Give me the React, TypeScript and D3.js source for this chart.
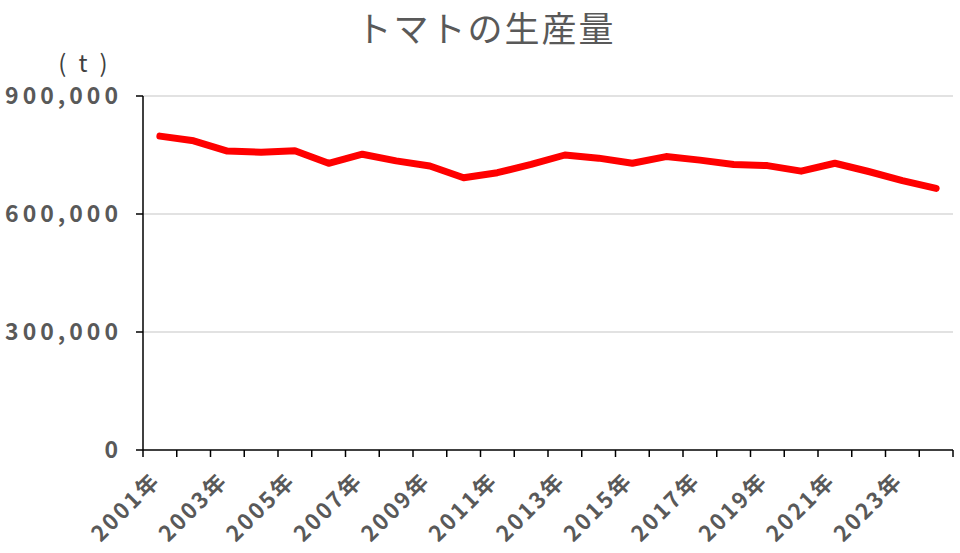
import { line, scaleBand, scaleLinear } from "d3";

const years = [
  "2001", "2002", "2003", "2004", "2005", "2006", "2007", "2008",
  "2009", "2010", "2011", "2012", "2013", "2014", "2015", "2016",
  "2017", "2018", "2019", "2020", "2021", "2022", "2023", "2024",
];
const production = [
  798000, 786000, 760000, 757000, 761000, 729000, 752000, 735000,
  722000, 692000, 705000, 726000, 750000, 742000, 729000, 746000,
  737000, 726000, 723000, 709000, 729000, 708000, 685000, 665000,
];
const yTicks = [0, 300000, 600000, 900000];

const width = 960;
const height = 553;
const margin = { top: 96, right: 7, bottom: 103, left: 143 };

const font = "'Noto Sans CJK JP', 'Noto Sans', sans-serif";
const labelColor = "#595959";

const App = () => {
  const innerW = width - margin.left - margin.right;
  const innerH = height - margin.top - margin.bottom;

  const xScale = scaleBand().domain(years).range([0, innerW]);
  const yScale = scaleLinear().domain([0, 900000]).range([innerH, 0]);

  const path = line<number>()
    .x((_, i) => xScale(years[i])! + xScale.bandwidth() / 2)
    .y((d) => yScale(d))(production);

  const fmt = (v: number) => v.toLocaleString("en-US");

  return (
    <svg width={width} height={height} style={{ position: "absolute", left: 0, top: 0, background: "#fff" }}>
      <text x={486} y={42} textAnchor="middle" fontFamily={font} fontSize={35} letterSpacing={2} fill={labelColor}>
        トマトの生産量
      </text>
      <text x={83} y={72} textAnchor="middle" fontFamily={font} fontSize={24} fill="#404040">
        {"(\u2002t\u2002)"}
      </text>
      <g transform={`translate(${margin.left},${margin.top})`}>
        {yTicks
          .filter((t) => t > 0)
          .map((t) => (
            <line key={`g-${t}`} x1={0} x2={innerW} y1={yScale(t)} y2={yScale(t)} stroke="#d9d9d9" strokeWidth={1.5} />
          ))}
        {yTicks.map((t) => (
          <g key={`y-${t}`} transform={`translate(0,${yScale(t)})`}>
            <line x1={-7} x2={0} stroke="#000" strokeWidth={1.5} />
            <text
              x={-21}
              dy="0.36em"
              textAnchor="end"
              fontFamily={font}
              fontWeight={700}
              fontSize={23}
              letterSpacing={4}
              fill={labelColor}
            >
              {fmt(t)}
            </text>
          </g>
        ))}
        <line x1={0} x2={0} y1={0} y2={innerH} stroke="#000" strokeWidth={1.5} />
        <line x1={0} x2={innerW} y1={innerH} y2={innerH} stroke="#000" strokeWidth={1.5} />
        {years.map((y) => (
          <line
            key={`xt-${y}`}
            x1={xScale(y)!}
            x2={xScale(y)!}
            y1={innerH}
            y2={innerH + 7}
            stroke="#000"
            strokeWidth={1.5}
          />
        ))}
        <line x1={innerW} x2={innerW} y1={innerH} y2={innerH + 7} stroke="#000" strokeWidth={1.5} />
        {years
          .filter((_, i) => i % 2 === 0)
          .map((y) => (
            <text
              key={`xl-${y}`}
              transform={`translate(${xScale(y)! + xScale.bandwidth() / 2 - 9},${innerH + 21}) rotate(-45)`}
              textAnchor="end"
              dy="0.7em"
              fontFamily={font}
              fontWeight={700}
              fontSize={22}
              letterSpacing={2.5}
              fill={labelColor}
            >
              {`${y}年`}
            </text>
          ))}
        <path d={path ?? ""} fill="none" stroke="#ff0000" strokeWidth={7} strokeLinejoin="round" strokeLinecap="round" />
      </g>
    </svg>
  );
};

export default App;
